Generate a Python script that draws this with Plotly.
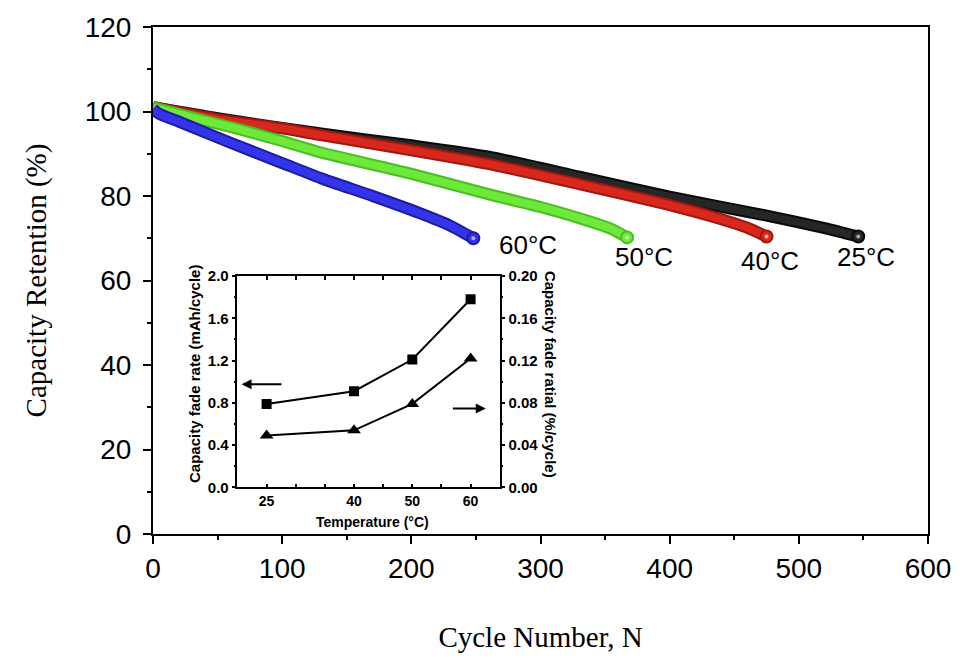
import plotly.graph_objects as go

# ---------------- data ----------------
cyc_60 = [0, 5, 20, 60, 100, 130, 170, 206, 230, 248]
ret_60 = [100.6, 99.4, 97.6, 92.6, 87.8, 84.2, 80.0, 76.0, 73.0, 70.0]

cyc_50 = [0, 30, 63, 100, 130, 198, 264, 300, 337, 355, 367]
ret_50 = [101.0, 98.6, 96.1, 93.0, 90.3, 85.4, 80.1, 77.4, 74.1, 72.2, 70.2]

cyc_40 = [0, 50, 100, 130, 200, 264, 330, 403, 440, 460, 475]
ret_40 = [101.0, 98.2, 96.0, 94.4, 90.8, 87.3, 82.8, 77.6, 74.5, 72.5, 70.4]

cyc_25 = [0, 50, 130, 200, 260, 330, 399, 476, 520, 546]
ret_25 = [101.0, 98.4, 94.8, 92.0, 89.3, 84.6, 79.9, 75.3, 72.4, 70.4]

series_names = ["60°C", "50°C", "40°C", "25°C"]

inset_temp = [25, 40, 50, 60]
fade_rate = [0.79, 0.91, 1.21, 1.78]          # mAh/cycle (left)
fade_ratio = [0.049, 0.054, 0.079, 0.122]     # %/cycle (right)

x_ticks_inset = [25, 30, 35, 40, 45, 50, 55, 60]
x_ticktext_inset = ["<b>25</b>", "", "", "<b>40</b>", "", "<b>50</b>", "", "<b>60</b>"]
y2_ticks = [0.0, 0.4, 0.8, 1.2, 1.6, 2.0]
y3_ticks = [0.0, 0.04, 0.08, 0.12, 0.16, 0.20]

# ---------------- styling ----------------
curves = [
    (cyc_60, ret_60, "#3434e8", "#1c1ca8"),
    (cyc_50, ret_50, "#6ee83a", "#48c020"),
    (cyc_40, ret_40, "#d8281e", "#a01810"),
    (cyc_25, ret_25, "#262626", "#0a0a0a"),
]
label_pos = [(290, 68.3), (380, 65.5), (478, 64.6), (552, 65.5)]

fig = go.Figure()

order = [3, 2, 1, 0]
for i in order:
    xs, ys, col, dark = curves[i]
    fig.add_trace(go.Scatter(x=xs, y=ys, mode="lines",
                             line=dict(color=dark, width=12, shape="spline", smoothing=0.6),
                             hoverinfo="skip", showlegend=False))
    fig.add_trace(go.Scatter(x=xs, y=ys, mode="lines",
                             line=dict(color=col, width=8, shape="spline", smoothing=0.6),
                             name=series_names[i], showlegend=False))
    fig.add_trace(go.Scatter(x=[xs[-1]], y=[ys[-1]], mode="markers",
                             marker=dict(color=col, size=12, line=dict(color=dark, width=2)),
                             hoverinfo="skip", showlegend=False))
    fig.add_trace(go.Scatter(x=[xs[-1]], y=[ys[-1]], mode="markers",
                             marker=dict(color="rgba(255,255,255,0.6)", size=4),
                             hoverinfo="skip", showlegend=False))

# inset traces
fig.add_trace(go.Scatter(x=inset_temp, y=fade_rate, mode="lines+markers",
                         line=dict(color="black", width=2),
                         marker=dict(symbol="square", size=10, color="black"),
                         xaxis="x2", yaxis="y2", showlegend=False))
fig.add_trace(go.Scatter(x=inset_temp, y=fade_ratio, mode="lines+markers",
                         line=dict(color="black", width=2),
                         marker=dict(symbol="triangle-up", size=12, color="black"),
                         xaxis="x2", yaxis="y3", showlegend=False))

inset_font = dict(family="Liberation Sans, Arial", size=15, color="black")
inset_xfont = dict(family="Liberation Sans, Arial", size=14, color="black")

annotations = []
for (lx, ly), name in zip(label_pos, series_names):
    annotations.append(dict(x=lx, y=ly, xref="x", yref="y", text=name, showarrow=False,
                            xanchor="center", yanchor="middle",
                            font=dict(family="Liberation Sans, Arial", size=26, color="black")))

# inset titles
annotations.append(dict(x=0.0538, y=0.315, xref="paper", yref="paper", textangle=-90,
                        xanchor="center", yanchor="middle",
                        text="<b>Capacity fade rate (mAh/cycle)</b>", showarrow=False,
                        font=inset_font))
annotations.append(dict(x=0.5128, y=0.315, xref="paper", yref="paper", textangle=90,
                        xanchor="center", yanchor="middle",
                        text="<b>Capacity fade ratial (%/cycle)</b>", showarrow=False,
                        font=inset_font))
annotations.append(dict(x=0.283, y=0.024, xref="paper", yref="paper",
                        xanchor="center", yanchor="middle",
                        text="<b>Temperature (°C)</b>", showarrow=False,
                        font=inset_xfont))
# arrows
annotations.append(dict(x=20.7, y=0.975, ax=27.8, ay=0.975, xref="x2", yref="y2",
                        axref="x2", ayref="y2", text="", showarrow=True,
                        arrowhead=2, arrowsize=1, arrowwidth=2, arrowcolor="black"))
annotations.append(dict(x=62.6, y=0.747, ax=56.7, ay=0.747, xref="x2", yref="y2",
                        axref="x2", ayref="y2", text="", showarrow=True,
                        arrowhead=2, arrowsize=1, arrowwidth=2, arrowcolor="black"))

tick_font = dict(family="Liberation Sans, Arial", size=28, color="black")
title_font = dict(family="Liberation Serif, Times New Roman", size=29, color="black")

fig.update_layout(
    width=963, height=660,
    margin=dict(l=153, r=30, t=23, b=126),
    paper_bgcolor="white", plot_bgcolor="white",
    showlegend=False,
    annotations=annotations,
    xaxis=dict(range=[0, 600], tickvals=[0, 100, 200, 300, 400, 500, 600],
               ticks="outside", ticklen=8, tickwidth=2, tickcolor="black",
               minor=dict(dtick=50, tick0=0, ticks="outside", ticklen=4, tickwidth=2, tickcolor="black"),
               showline=True, linewidth=2, linecolor="black", mirror=True,
               showgrid=False, zeroline=False, tickfont=tick_font,
               title=dict(text="Cycle Number, N", standoff=44, font=title_font)),
    yaxis=dict(range=[0, 120], tickvals=[0, 20, 40, 60, 80, 100, 120],
               ticks="outside", ticklen=8, tickwidth=2, tickcolor="black",
               minor=dict(dtick=10, tick0=0, ticks="outside", ticklen=4, tickwidth=2, tickcolor="black"),
               showline=True, linewidth=2, linecolor="black", mirror=True,
               showgrid=False, zeroline=False, tickfont=tick_font, ticklabelstandoff=6,
               title=dict(text="Capacity Retention (%)", standoff=30, font=title_font)),
    xaxis2=dict(domain=[0.109, 0.4474], anchor="y2", range=[20, 65],
                tickvals=x_ticks_inset, ticktext=x_ticktext_inset,
                ticks="inside", ticklen=4, tickwidth=1.5, tickcolor="black",
                showline=True, linewidth=1.5, linecolor="black", mirror="ticks",
                showgrid=False, zeroline=False, tickfont=inset_xfont),
    yaxis2=dict(domain=[0.092, 0.5088], anchor="x2", range=[0, 2.0],
                tickvals=y2_ticks,
                ticktext=["<b>%.1f</b>" % v for v in y2_ticks],
                ticks="outside", ticklen=4, tickwidth=1.5, tickcolor="black",
                minor=dict(dtick=0.2, tick0=0, ticks="outside", ticklen=2, tickcolor="black"),
                showline=True, linewidth=1.5, linecolor="black", mirror=True,
                showgrid=False, zeroline=False, tickfont=inset_font),
    yaxis3=dict(domain=[0.092, 0.5088], anchor="x2", overlaying="y2", side="right",
                range=[0, 0.20],
                tickvals=y3_ticks,
                ticktext=["<b>%.2f</b>" % v for v in y3_ticks],
                ticks="outside", ticklen=4, tickwidth=1.5, tickcolor="black",
                minor=dict(dtick=0.02, tick0=0, ticks="outside", ticklen=2, tickcolor="black"),
                showline=True, linewidth=1.5, linecolor="black",
                showgrid=False, zeroline=False, tickfont=inset_font),
)

fig.write_html("out.html")
